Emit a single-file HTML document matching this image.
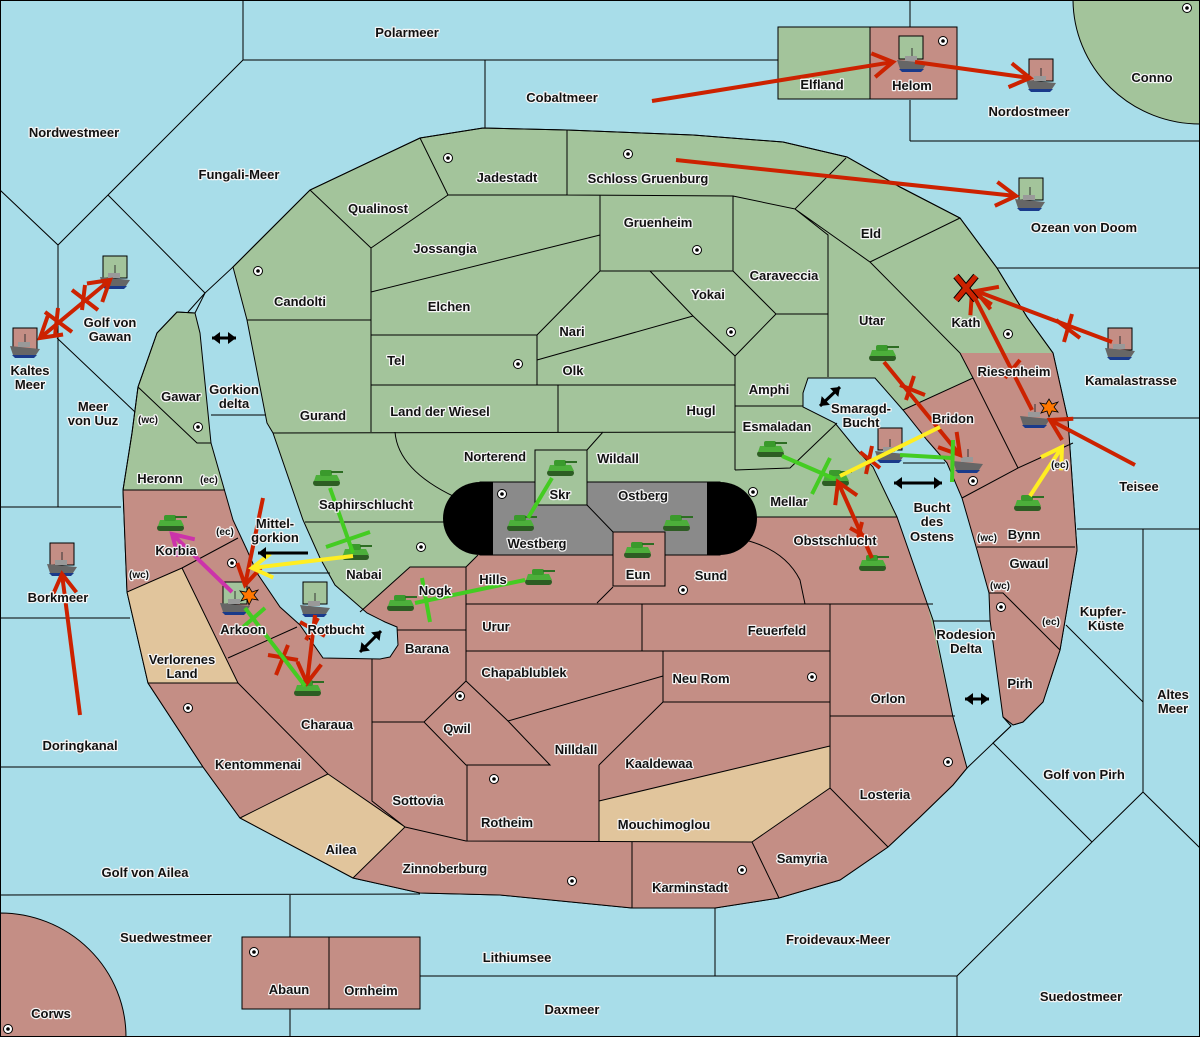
<!DOCTYPE html>
<html><head><meta charset="utf-8"><style>
html,body{margin:0;padding:0;background:#a8dde9}
svg{display:block}
text{font-family:"Liberation Sans",sans-serif;font-weight:bold;font-size:13px;fill:#111;stroke:#f4f4f4;stroke-width:2.5px;paint-order:stroke;stroke-linejoin:round;text-anchor:middle}
.b{fill:none;stroke:#000;stroke-width:1}
</style></head><body>
<svg width="1200" height="1037" viewBox="0 0 1200 1037" xmlns="http://www.w3.org/2000/svg">
<defs>
<g id="tk"><rect x="-13" y="1" width="27" height="6" rx="3" fill="#2d5d23"/><path d="M-12,2 L-10,-4 L11,-4 L14,2Z" fill="#4caf3a"/><rect x="-6" y="-9" width="12" height="6" rx="2" fill="#3a9a2c"/><rect x="5" y="-8" width="12" height="2" fill="#2d6d23"/></g>
<g id="sh"><path d="M-15,-1 L15,2 L11,8 L-12,8Z" fill="#666"/><path d="M-13,8 L12,8 L9,11 L-10,11Z" fill="#1a3a8a"/><rect x="-7" y="-5" width="12" height="5" fill="#999"/><line x1="0" y1="-13" x2="0" y2="-5" stroke="#333"/></g>
<g id="sc"><circle r="4.5" fill="#fff" stroke="#000"/><circle r="1.8" fill="#000"/></g>
<g id="ex"><path d="M0,-9 L3,-4 L9,-6 L5,-1 L9,4 L3,3 L0,9 L-2,3 L-8,5 L-5,0 L-9,-5 L-3,-4Z" fill="#ff7700" stroke="#000" stroke-width="0.8"/></g>
<marker id="mr" markerUnits="userSpaceOnUse" markerWidth="34" markerHeight="34" refX="0" refY="0" viewBox="-24 -17 34 34" orient="auto-start-reverse"><path d="M-20,-12 L0,0 L-20,12" fill="none" stroke="#cc2200" stroke-width="4"/></marker>
<marker id="mg" markerUnits="userSpaceOnUse" markerWidth="34" markerHeight="34" refX="0" refY="0" viewBox="-24 -17 34 34" orient="auto"><path d="M-20,-12 L0,0 L-20,12" fill="none" stroke="#44cc22" stroke-width="4"/></marker>
<marker id="my" markerUnits="userSpaceOnUse" markerWidth="34" markerHeight="34" refX="0" refY="0" viewBox="-24 -17 34 34" orient="auto"><path d="M-20,-12 L0,0 L-20,12" fill="none" stroke="#ffee22" stroke-width="4"/></marker>
<marker id="mm" markerUnits="userSpaceOnUse" markerWidth="34" markerHeight="34" refX="0" refY="0" viewBox="-24 -17 34 34" orient="auto"><path d="M-20,-12 L0,0 L-20,12" fill="none" stroke="#cc33aa" stroke-width="4"/></marker>
<marker id="mb" markerUnits="userSpaceOnUse" markerWidth="16" markerHeight="16" refX="0" refY="0" viewBox="-10 -8 12 16" orient="auto-start-reverse"><path d="M-8,-6 L0,0 L-8,6Z" fill="#000"/></marker>
</defs>
<rect width="1200" height="1037" fill="#a8dde9"/>
<path d="M1073,0 A127,125 0 0 0 1200,124 L1200,0Z" fill="#a3c49b" stroke="#000"/>
<path d="M0,913 A126,124 0 0 1 126,1037 L0,1037Z" fill="#c48e85" stroke="#000"/>
<path d="M233,267 L310,190 L420,138 L483,128 L567,130 L693,135 L783,142 L847,157 L900,187 L960,218 L997,268 L1027,317 L1053,353 L1068,420 L1077,550 L1060,650 L1043,702 L1023,722 L1013,725 L1003,717 L990,620 L967,768 L953,785 L920,817 L888,847 L840,880 L779,898 L715,908 L632,908 L500,895 L420,893 L353,878 L240,818 L203,767 L148,683 L127,592 L123,490 L132,433 L138,387 L157,333 L177,312 L195,313Z" fill="#a3c49b" stroke="#000"/>
<path d="M330,612 L360,612 L410,567 L466,567 L478,555 L745,540 L745,517 L897,517 L927,603 L953,717 L967,768 L953,785 L920,817 L888,847 L840,880 L779,898 L715,908 L632,908 L500,895 L420,893 L353,878 L240,818 L203,767 L148,683 L127,592 L123,490 L225,490 L245,545 L265,570 L300,600Z" fill="#c48e85"/>
<path d="M903,410 L973,378 L960,353 L1053,353 L1068,420 L1077,550 L1060,650 L1043,702 L1023,722 L1013,725 L1003,717 L990,620 L977,550 L962,498 L947,463 L927,440Z" fill="#c48e85"/>
<path d="M127,592 L182,568 L238,683 L148,683Z" fill="#e1c59c"/>
<path d="M240,818 L328,774 L405,827 L353,878Z" fill="#e1c59c"/>
<path d="M599,801 L830,746 L830,788 L752,842 L599,842Z" fill="#e1c59c"/>
<path class="b" d="M233,267 L310,190 L420,138 L483,128 L567,130 L693,135 L783,142 L847,157 L900,187 L960,218 L997,268 L1027,317 L1053,353 L1068,420 L1077,550 L1060,650 L1043,702 L1023,722 L1013,725 L1003,717 M967,768 L953,785 L920,817 L888,847 L840,880 L779,898 L715,908 L632,908 L500,895 L420,893 L353,878 L240,818 L203,767 L148,683 L127,592 L123,490 L132,433 L138,387 L157,333 L177,312 L195,313"/>
<path d="M195,313 L205,293 L233,267 L247,320 L267,423 L273,433 L303,520 L320,558 L335,585 L367,613 L385,622 L397,627 L398,645 L390,657 L380,659 L323,658 L300,625 L280,607 L257,573 L247,550 L233,520 L211,443 L200,333Z" fill="#a8dde9" stroke="#000"/>
<path d="M808,378 L875,378 L903,410 L927,440 L947,463 L962,498 L977,550 L989,593 L990,620 L1003,717 L1011,726 L967,768 L953,717 L933,620 L927,603 L897,517 L873,467 L857,450 L835,423 L803,407 L803,393Z" fill="#a8dde9" stroke="#000"/>
<rect x="0" y="0" width="1200" height="1037" fill="none" stroke="#000" stroke-width="2"/>
<path class="b" d="M243,0 L243,60 L778,60 M485,60 L485,128 M243,60 L108,195 L58,245 L0,190 M108,195 L205,293 L188,312 M58,245 L58,507 M0,507 L121,507 M57,338 L135,412 M0,618 L130,618 M0,767 L203,767 M0,895 L420,894 M290,895 L290,937 M290,1009 L290,1037 M715,908 L715,976 M420,976 L957,976 M957,976 L957,1037 M957,976 L1092,842 L1143,792 L1143,529 M1092,842 L993,743 L1011,726 M1143,792 L1200,848 M1066,625 L1143,702 M1077,529 L1200,529 M1068,418 L1200,418 M997,268 L1200,268 M910,141 L1200,141 M910,100 L910,141 M910,0 L910,27 M211,415 L266,415 M258,573 L330,573 M903,463 L945,463 M933,621 L990,621"/>
<rect x="778" y="27" width="92" height="72" fill="#a3c49b" stroke="#000"/>
<rect x="870" y="27" width="87" height="72" fill="#c48e85" stroke="#000"/>
<rect x="242" y="937" width="87" height="72" fill="#c48e85" stroke="#000"/>
<rect x="329" y="937" width="91" height="72" fill="#c48e85" stroke="#000"/>
<path class="b" d="M138,387 L197,443 L211,443 M123,490 L225,490 M127,592 L182,568 L238,538 M182,568 L238,683 L148,683 M228,658 L297,627 M238,683 L328,774 L240,818 M328,774 L405,827 L353,878 M372,659 L372,801 L405,827 M372,722 L424,722
M247,320 L371,320 M310,190 L371,248 L448,195 L420,138 M371,248 L371,432 M371,292 L600,235 M448,195 L567,195 L567,130 M567,195 L733,196 L795,209 L846,158 M600,195 L600,271 L733,271 L733,196 M795,209 L870,262 L960,218 M870,262 L960,353 L973,378 L903,410 M973,378 L1018,468 L1073,443 M1018,468 L962,498 M795,209 L828,235 L828,377 M776,314 L828,314 M371,335 L537,335 L537,385 M537,335 L600,271 M537,360 L693,316 M650,271 L693,316 L735,356 L776,314 L733,271 M735,356 L735,470 M371,385 L735,385 M558,385 L558,432 M273,433 L735,432 M735,406 L803,406 M735,470 L790,468 L837,423 M395,432 Q398,470 455,497 M603,432 L587,450 M305,522 L457,522 M745,517 L897,517 M360,612 L410,567 L466,567 L478,555 M466,567 L466,651 M397,630 L466,630 M466,604 L933,604 M597,603 L613,587 M745,540 Q785,550 800,580 L805,604 M642,604 L642,651 M466,651 L830,651 M830,604 L830,788 M663,651 L663,702 L830,702 M466,651 L466,681 L424,722 L466,765 L550,765 L508,721 L466,681 M508,721 L663,676 M599,765 L663,702 M599,765 L599,841 M467,765 L467,841 M405,827 L466,841 L752,842 M599,801 L830,746 M752,842 L830,788 L888,847 M632,842 L632,908 M752,842 L779,898 M830,716 L955,716 M977,547 L1075,547 M989,593 L1003,593 L1060,650"/>
<rect x="480" y="482" width="240" height="73" fill="#8a8a8a" stroke="#000"/>
<path d="M493,482 L480,482 A37,36.5 0 0 0 480,555 L493,555Z" fill="#000"/>
<path d="M707,482 L720,482 A37,36.5 0 0 1 720,555 L707,555Z" fill="#000"/>
<path class="b" d="M587,505 L613,532"/>
<rect x="535" y="450" width="52" height="55" fill="#a3c49b" stroke="#000"/>
<rect x="613" y="532" width="52" height="54" fill="#c48e85" stroke="#000"/>
<g>
<use href="#sc" x="448" y="158"/><use href="#sc" x="628" y="154"/><use href="#sc" x="697" y="250"/><use href="#sc" x="258" y="271"/><use href="#sc" x="518" y="364"/><use href="#sc" x="731" y="332"/><use href="#sc" x="1008" y="334"/><use href="#sc" x="198" y="427"/><use href="#sc" x="421" y="547"/><use href="#sc" x="502" y="494"/><use href="#sc" x="753" y="492"/><use href="#sc" x="232" y="563"/><use href="#sc" x="973" y="481"/><use href="#sc" x="188" y="708"/><use href="#sc" x="683" y="590"/><use href="#sc" x="460" y="696"/><use href="#sc" x="812" y="677"/><use href="#sc" x="494" y="779"/><use href="#sc" x="572" y="881"/><use href="#sc" x="742" y="870"/><use href="#sc" x="948" y="762"/><use href="#sc" x="1001" y="607"/><use href="#sc" x="254" y="952"/><use href="#sc" x="8" y="1029"/><use href="#sc" x="1187" y="8"/><use href="#sc" x="943" y="41"/>
</g>
<rect x="103" y="256" width="24" height="22" fill="#a3c49b" stroke="#000"/>
<rect x="13" y="328" width="24" height="22" fill="#c48e85" stroke="#000"/>
<rect x="50" y="543" width="24" height="22" fill="#c48e85" stroke="#000"/>
<rect x="223" y="582" width="24" height="22" fill="#a3c49b" stroke="#000"/>
<rect x="303" y="582" width="24" height="22" fill="#a3c49b" stroke="#000"/>
<rect x="899" y="36" width="24" height="23" fill="#a3c49b" stroke="#000"/>
<rect x="1029" y="59" width="24" height="22" fill="#c48e85" stroke="#000"/>
<rect x="1019" y="178" width="24" height="22" fill="#a3c49b" stroke="#000"/>
<rect x="1108" y="328" width="24" height="22" fill="#c48e85" stroke="#000"/>
<rect x="878" y="428" width="24" height="22" fill="#c48e85" stroke="#000"/>
<use href="#tk" x="326" y="479"/><use href="#tk" x="170" y="524"/><use href="#tk" x="355" y="553"/><use href="#tk" x="400" y="604"/><use href="#tk" x="538" y="578"/><use href="#tk" x="560" y="469"/><use href="#tk" x="520" y="524"/><use href="#tk" x="676" y="524"/><use href="#tk" x="637" y="551"/><use href="#tk" x="307" y="689"/><use href="#tk" x="770" y="450"/><use href="#tk" x="882" y="354"/><use href="#tk" x="835" y="479"/><use href="#tk" x="872" y="564"/><use href="#tk" x="1027" y="504"/>
<use href="#sh" x="115" y="278"/><use href="#sh" x="25" y="347"/><use href="#sh" x="62" y="565"/><use href="#sh" x="235" y="604"/><use href="#sh" x="315" y="606"/><use href="#sh" x="912" y="61"/><use href="#sh" x="1041" y="81"/><use href="#sh" x="1030" y="200"/><use href="#sh" x="1120" y="349"/><use href="#sh" x="890" y="452"/><use href="#sh" x="968" y="462"/><use href="#sh" x="1035" y="417"/>
<use href="#ex" x="249" y="596"/><use href="#ex" x="1049" y="408"/>
<g fill="none" stroke-width="4">
<g stroke="#cc2200">
<line x1="652" y1="101" x2="893" y2="62" marker-end="url(#mr)"/>
<line x1="915" y1="62" x2="1030" y2="78" marker-end="url(#mr)"/>
<line x1="676" y1="160" x2="1016" y2="196" marker-end="url(#mr)"/>
<line x1="40" y1="338" x2="110" y2="280" marker-end="url(#mr)" marker-start="url(#mr)"/>
<line x1="80" y1="715" x2="62" y2="574" marker-end="url(#mr)"/>
<line x1="1032" y1="410" x2="972" y2="292" marker-end="url(#mr)"/>
<line x1="1112" y1="342" x2="976" y2="291" marker-end="url(#mr)"/>
<line x1="1135" y1="465" x2="1050" y2="420" marker-end="url(#mr)"/>
<line x1="884" y1="362" x2="960" y2="455" marker-end="url(#mr)"/>
<line x1="872" y1="558" x2="838" y2="482" marker-end="url(#mr)"/>
<line x1="263" y1="498" x2="245" y2="585" marker-end="url(#mr)"/>
<line x1="315" y1="615" x2="307" y2="683" marker-end="url(#mr)"/>
<path d="M45,312 L72,332 M58,308 L55,336 M72,290 L98,310 M85,285 L82,310 M1056,320 L1080,338 M1072,314 L1064,342 M1005,378 L1020,360 M900,385 L925,395 M914,376 L906,400 M850,528 L868,538 M862,522 L856,546 M860,452 L880,468 M872,446 L866,474 M300,622 L325,636 M318,618 L306,640 M268,655 L298,660 M288,645 L276,675"/>
<path d="M956,276 L976,300 M976,276 L956,300" stroke="#000" stroke-width="7"/>
<path d="M956,276 L976,300 M976,276 L956,300" stroke-width="5"/>
</g>
<g stroke="#44cc22">
<line x1="330" y1="488" x2="353" y2="553"/>
<path d="M326,547 L370,532"/>
<line x1="415" y1="603" x2="525" y2="580"/>
<path d="M422,578 L430,622"/>
<line x1="552" y1="478" x2="528" y2="518"/>
<line x1="782" y1="456" x2="835" y2="479"/>
<path d="M830,458 L812,494"/>
<line x1="900" y1="455" x2="952" y2="458"/>
<path d="M953,440 L952,482"/>
<line x1="245" y1="608" x2="305" y2="686"/>
<path d="M242,628 L265,608"/>
</g>
<g stroke="#ffee22">
<line x1="353" y1="556" x2="252" y2="568" marker-end="url(#my)"/>
<line x1="840" y1="476" x2="940" y2="427"/>
<line x1="1030" y1="496" x2="1062" y2="447" marker-end="url(#my)"/>
</g>
<line x1="232" y1="592" x2="172" y2="534" stroke="#cc33aa" marker-end="url(#mm)"/>
</g>
<g stroke="#000" stroke-width="3" fill="none">
<line x1="212" y1="338" x2="236" y2="338" marker-end="url(#mb)" marker-start="url(#mb)"/>
<line x1="820" y1="406" x2="840" y2="387" marker-end="url(#mb)" marker-start="url(#mb)"/>
<line x1="894" y1="483" x2="942" y2="483" marker-end="url(#mb)" marker-start="url(#mb)"/>
<line x1="360" y1="652" x2="381" y2="631" marker-end="url(#mb)" marker-start="url(#mb)"/>
<line x1="965" y1="699" x2="989" y2="699" marker-end="url(#mb)" marker-start="url(#mb)"/>
<line x1="308" y1="553" x2="258" y2="553" marker-end="url(#mb)"/>
</g>
<g>
<text x="407" y="37">Polarmeer</text><text x="562" y="102">Cobaltmeer</text><text x="74" y="137">Nordwestmeer</text><text x="239" y="179">Fungali-Meer</text>
<text x="822" y="89">Elfland</text><text x="912" y="90">Helom</text><text x="1029" y="116">Nordostmeer</text><text x="1152" y="82">Conno</text>
<text x="507" y="182">Jadestadt</text><text x="648" y="183">Schloss Gruenburg</text><text x="378" y="213">Qualinost</text><text x="658" y="227">Gruenheim</text>
<text x="1084" y="232">Ozean von Doom</text><text x="871" y="238">Eld</text><text x="445" y="253">Jossangia</text><text x="784" y="280">Caraveccia</text><text x="708" y="299">Yokai</text>
<text x="300" y="306">Candolti</text><text x="449" y="311">Elchen</text><text x="872" y="325">Utar</text><text x="966" y="327">Kath</text>
<text x="110" y="327">Golf von</text><text x="110" y="341">Gawan</text><text x="572" y="336">Nari</text><text x="396" y="365">Tel</text><text x="573" y="375">Olk</text>
<text x="30" y="375">Kaltes</text><text x="30" y="389">Meer</text><text x="1014" y="376">Riesenheim</text><text x="1131" y="385">Kamalastrasse</text><text x="769" y="394">Amphi</text>
<text x="234" y="394">Gorkion</text><text x="234" y="408">delta</text><text x="181" y="401">Gawar</text><text x="93" y="411">Meer</text><text x="93" y="425">von Uuz</text>
<text x="148" y="423" style="font-size:10px">(wc)</text><text x="440" y="416">Land der Wiesel</text><text x="701" y="415">Hugl</text>
<text x="861" y="413">Smaragd-</text><text x="861" y="427">Bucht</text><text x="323" y="420">Gurand</text><text x="953" y="423">Bridon</text><text x="777" y="431">Esmaladan</text>
<text x="495" y="461">Norterend</text><text x="618" y="463">Wildall</text><text x="1060" y="468" style="font-size:10px">(ec)</text>
<text x="160" y="483">Heronn</text><text x="209" y="483" style="font-size:10px">(ec)</text><text x="1139" y="491">Teisee</text><text x="560" y="499">Skr</text><text x="643" y="500">Ostberg</text>
<text x="789" y="506">Mellar</text><text x="366" y="509">Saphirschlucht</text><text x="932" y="512">Bucht</text><text x="932" y="526">des</text><text x="932" y="541">Ostens</text>
<text x="275" y="528">Mittel-</text><text x="275" y="542">gorkion</text><text x="225" y="535" style="font-size:10px">(ec)</text><text x="1024" y="539">Bynn</text><text x="987" y="541" style="font-size:10px">(wc)</text>
<text x="537" y="548">Westberg</text><text x="835" y="545">Obstschlucht</text><text x="176" y="555">Korbia</text><text x="1029" y="568">Gwaul</text><text x="364" y="579">Nabai</text>
<text x="139" y="578" style="font-size:10px">(wc)</text><text x="638" y="579">Eun</text><text x="711" y="580">Sund</text><text x="493" y="584">Hills</text><text x="1000" y="589" style="font-size:10px">(wc)</text>
<text x="435" y="595">Nogk</text><text x="58" y="602">Borkmeer</text><text x="1103" y="616">Kupfer-</text><text x="1106" y="630">Küste</text><text x="1051" y="625" style="font-size:10px">(ec)</text>
<text x="496" y="631">Urur</text><text x="777" y="635">Feuerfeld</text><text x="336" y="634">Rotbucht</text><text x="243" y="634">Arkoon</text>
<text x="966" y="639">Rodesion</text><text x="966" y="653">Delta</text><text x="427" y="653">Barana</text><text x="182" y="664">Verlorenes</text><text x="182" y="678">Land</text>
<text x="524" y="677">Chapablublek</text><text x="701" y="683">Neu Rom</text><text x="1020" y="688">Pirh</text><text x="1173" y="699">Altes</text><text x="1173" y="713">Meer</text>
<text x="888" y="703">Orlon</text><text x="327" y="729">Charaua</text><text x="457" y="733">Qwil</text><text x="80" y="750">Doringkanal</text><text x="576" y="754">Nilldall</text>
<text x="659" y="768">Kaaldewaa</text><text x="258" y="769">Kentommenai</text><text x="1084" y="779">Golf von Pirh</text><text x="885" y="799">Losteria</text>
<text x="418" y="805">Sottovia</text><text x="507" y="827">Rotheim</text><text x="664" y="829">Mouchimoglou</text><text x="341" y="854">Ailea</text><text x="802" y="863">Samyria</text>
<text x="445" y="873">Zinnoberburg</text><text x="145" y="877">Golf von Ailea</text><text x="690" y="892">Karminstadt</text><text x="166" y="942">Suedwestmeer</text>
<text x="838" y="944">Froidevaux-Meer</text><text x="517" y="962">Lithiumsee</text><text x="289" y="994">Abaun</text><text x="371" y="995">Ornheim</text>
<text x="1081" y="1001">Suedostmeer</text><text x="572" y="1014">Daxmeer</text><text x="51" y="1018">Corws</text>
</g>
</svg>
</body></html>
